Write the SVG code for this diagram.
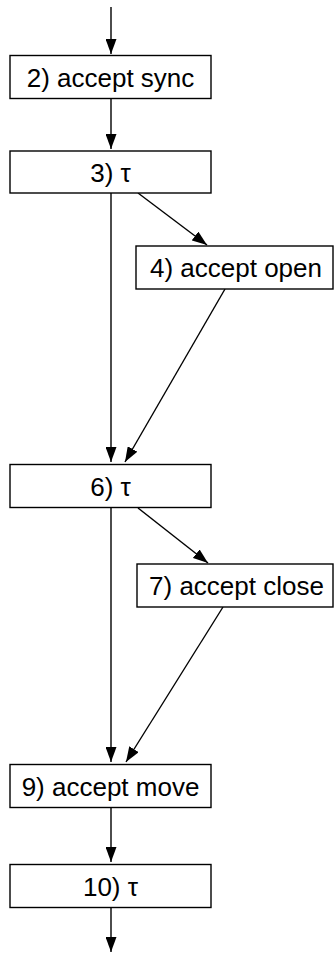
<svg xmlns="http://www.w3.org/2000/svg" width="336" height="954" viewBox="0 0 336 954">
  <style>
    .box { fill: #ffffff; stroke: #000000; stroke-width: 1.4; }
    .lbl { font-family: "Liberation Sans", Arial, Helvetica, sans-serif; font-size: 26px; fill: #000000; text-anchor: middle; }
    .edge { stroke: #000000; stroke-width: 1.4; fill: none; marker-end: url(#arrow); }
  </style>
  <defs>
    <marker id="arrow" viewBox="0 0 15 11" refX="15" refY="5.5" markerWidth="15" markerHeight="11" markerUnits="userSpaceOnUse" orient="auto">
      <path d="M0,0 L15,5.5 L0,11 Z" fill="#000000"/>
    </marker>
  </defs>
  <rect width="336" height="954" fill="#ffffff"/>

  <g id="connectors">
    <line class="edge" x1="111" y1="7" x2="111" y2="54"/>
    <line class="edge" x1="111" y1="98" x2="111" y2="149"/>
    <line class="edge" x1="111" y1="193" x2="111" y2="462"/>
    <line class="edge" x1="138" y1="193" x2="207" y2="245"/>
    <line class="edge" x1="225" y1="289" x2="125" y2="462"/>
    <line class="edge" x1="111" y1="508" x2="111" y2="762"/>
    <line class="edge" x1="138" y1="508" x2="208" y2="563"/>
    <line class="edge" x1="223" y1="607" x2="126" y2="762"/>
    <line class="edge" x1="111" y1="808" x2="111" y2="862"/>
    <line class="edge" x1="111" y1="907" x2="111" y2="952"/>
  </g>

  <g id="n2">
    <rect class="box" x="10" y="55.5" width="201" height="43"/>
    <text class="lbl" x="110.5" y="87">2) accept sync</text>
  </g>
  <g id="n3">
    <rect class="box" x="10" y="151" width="201" height="42"/>
    <text class="lbl" x="110.5" y="182">3) τ</text>
  </g>
  <g id="n4">
    <rect class="box" x="136" y="246" width="197" height="43"/>
    <text class="lbl" x="236" y="277">4) accept open</text>
  </g>
  <g id="n6">
    <rect class="box" x="10" y="464.5" width="201" height="43"/>
    <text class="lbl" x="110.5" y="496">6) τ</text>
  </g>
  <g id="n7">
    <rect class="box" x="137" y="564" width="196" height="43"/>
    <text class="lbl" x="236.5" y="595">7) accept close</text>
  </g>
  <g id="n9">
    <rect class="box" x="10" y="764.5" width="201" height="43"/>
    <text class="lbl" x="110.5" y="796">9) accept move</text>
  </g>
  <g id="n10">
    <rect class="box" x="10" y="864.5" width="201" height="43"/>
    <text class="lbl" x="110.5" y="896">10) τ</text>
  </g>
</svg>
